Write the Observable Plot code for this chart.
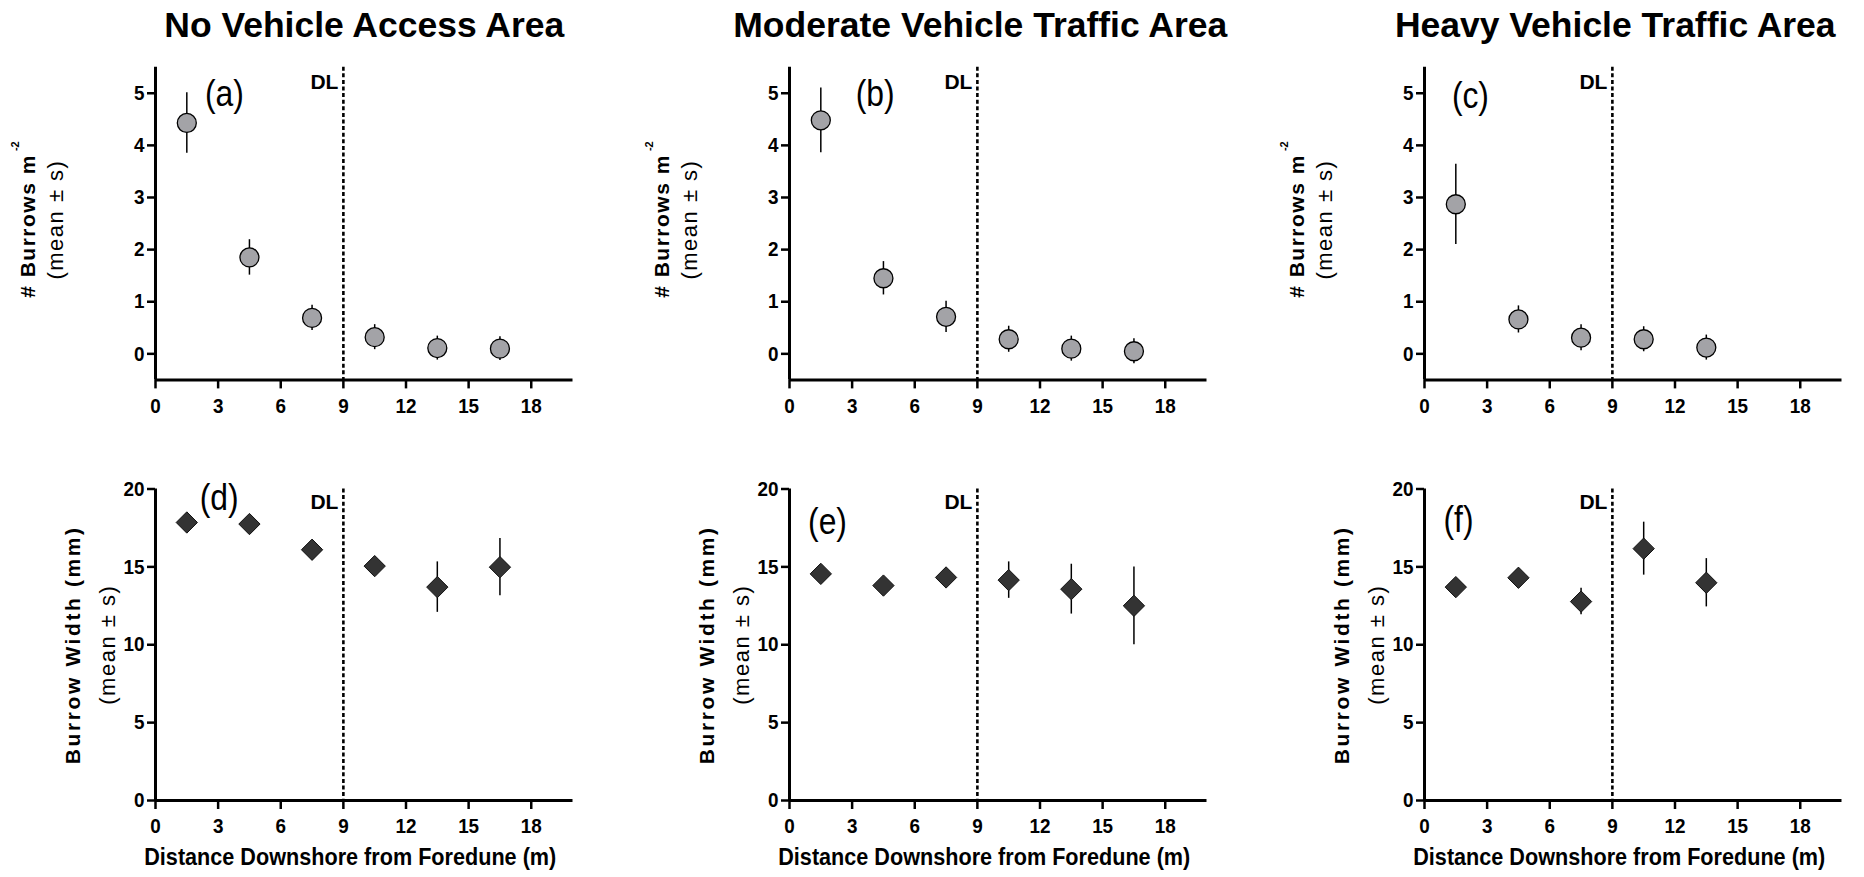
<!DOCTYPE html>
<html>
<head>
<meta charset="utf-8">
<script src="https://cdn.jsdelivr.net/npm/d3@7"></script>
<script src="https://cdn.jsdelivr.net/npm/@observablehq/plot@0.6"></script>
<style>
  html, body { margin: 0; padding: 0; background: #fff; overflow: hidden; }
  #root { position: relative; width: 1864px; height: 877px; }
  .panel { position: absolute; }
</style>
</head>
<body>
<div id="root"></div>
<script>
// ---------------- data ----------------
const areas = ["No Vehicle Access Area", "Moderate Vehicle Traffic Area", "Heavy Vehicle Traffic Area"];
const distances = [1.5, 4.5, 7.5, 10.5, 13.5, 16.5];

// # burrows per m^2 (mean, sd) — panels a, b, c
const burrowMean = [
  [4.43, 1.85, 0.69, 0.32, 0.11, 0.10],
  [4.48, 1.45, 0.71, 0.28, 0.10, 0.05],
  [2.87, 0.66, 0.31, 0.28, 0.12]
];
const burrowSD = [
  [0.58, 0.34, 0.24, 0.24, 0.23, 0.23],
  [0.62, 0.32, 0.30, 0.25, 0.24, 0.24],
  [0.77, 0.26, 0.25, 0.24, 0.24]
];

// burrow width mm (mean, sd) — panels d, e, f
const widthMean = [
  [17.85, 17.75, 16.10, 15.05, 13.70, 14.98],
  [14.55, 13.80, 14.32, 14.15, 13.57, 12.50],
  [13.70, 14.30, 12.77, 16.17, 13.98]
];
const widthSD = [
  [0.5, 0.5, 0.5, 0.6, 1.62, 1.84],
  [0.5, 0.5, 0.5, 1.17, 1.60, 2.50],
  [0.5, 0.5, 0.85, 1.70, 1.55]
];

const panelLetters = [["(a)", "(b)", "(c)"], ["(d)", "(e)", "(f)"]];
const xTicks = [0, 3, 6, 9, 12, 15, 18];
const burrowTicks = [0, 1, 2, 3, 4, 5];
const widthTicks = [0, 5, 10, 15, 20];
const dlDistance = [9];
const dlLabel = "DL";
const burrowTitle = ["# Burrows m", " -2"];
const widthTitle = ["Burrow Width (mm)"];
const statTitle = "(mean \u00B1 s)";
const xTitle = "Distance Downshore from Foredune (m)";

// ---------------- layout ----------------
const SANS = '"Liberation Sans",Arial,Helvetica,sans-serif';
const NARROW_FACTOR = 0.86;   // emulate a narrow face by condensing glyphs
const COL_STEP = 634.35, MARGIN_LEFT = 155, SVG_W = 593, MARGIN_RIGHT = 20.5;
// annotation placement (data units) for the panel letters
const letterPos = [[[3.3, 4.98], [4.1, 4.98], [2.2, 4.95]], [[3.05, 19.4], [1.82, 17.9], [1.63, 18.0]]];
const titleShift = [0, -18, -18];

const rows = [
  { top: 0, height: 420, marginTop: 66.7, marginBottom: 40.6, yDomain: [-0.5, 5.5], yTicks: burrowTicks,
    means: burrowMean, sds: burrowSD, kind: "circle", title1: burrowTitle, t1dx: -127, t2dx: -100, tdy: -4,
    t1ls: "1.5px", dlDy: 15 },
  { top: 420, height: 457, marginTop: 68.5, marginBottom: 77, yDomain: [0, 20], yTicks: widthTicks,
    means: widthMean, sds: widthSD, kind: "diamond", title1: widthTitle, t1dx: -82, t2dx: -48, tdy: 0,
    t1ls: "2.6px", dlDy: 13.5 }
];

const root = document.getElementById("root");

function condense(nodes, factor) {
  nodes.each(function () {
    const L = this.getComputedTextLength();
    if (L > 0) {
      this.setAttribute("textLength", (L * factor).toFixed(1));
      this.setAttribute("lengthAdjust", "spacingAndGlyphs");
    }
  });
}
function byText(sel, s) {
  return sel.selectAll("text").filter(function () { return this.textContent === s; });
}

rows.forEach((R, r) => {
  for (let c = 0; c < 3; c++) {
    const data = R.means[c].map((m, i) => ({ x: distances[i], m, s: R.sds[c][i] }));
    const marks = [
      Plot.ruleX(dlDistance, { x: d => d, stroke: "#000", strokeWidth: 2.6, strokeDasharray: "4,2.6" }),
      Plot.ruleX(data, { x: "x", y1: d => d.m - d.s, y2: d => d.m + d.s, stroke: "#000", strokeWidth: 1.5 }),
      R.kind === "circle"
        ? Plot.dot(data, { x: "x", y: "m", r: 9.5, fill: "#a3a3a7", stroke: "#000", strokeWidth: 1.3 })
        : Plot.dot(data, { x: "x", y: "m", symbol: "diamond2", r: 9.6, fill: "#333333", stroke: "#111", strokeWidth: 1 }),
      Plot.ruleY([R.yDomain[0]], { y: d => d, stroke: "#000", strokeWidth: 3 }),
      Plot.ruleX([0], { x: d => d, stroke: "#000", strokeWidth: 3 }),
      Plot.axisX({ ticks: xTicks, tickSize: 9, tickPadding: 9, fontSize: 21, fontWeight: "bold",
                   fontFamily: SANS, strokeWidth: 2.5, label: null, tickFormat: "d" }),
      Plot.axisY({ ticks: R.yTicks, tickSize: 8, tickPadding: 3, fontSize: 21, fontWeight: "bold",
                   fontFamily: SANS, strokeWidth: 2.5, label: null, tickFormat: "d" }),
      Plot.text(dlDistance, { x: d => d, text: () => dlLabel, frameAnchor: "top", textAnchor: "end",
                              lineAnchor: "middle", dx: -5, dy: R.dlDy, fontSize: 21, fontWeight: "bold",
                              fontFamily: SANS }),
      Plot.text([letterPos[r][c]], { x: d => d[0], y: d => d[1], text: () => panelLetters[r][c],
                              lineAnchor: "middle", fontSize: 37, fontWeight: "normal", fontFamily: SANS }),
      Plot.text([R.title1[0]], { text: d => d, frameAnchor: "left", textAnchor: "middle", lineAnchor: "middle",
                              rotate: -90, dx: R.t1dx, dy: R.tdy, fontSize: 21, fontWeight: "bold", fontFamily: SANS }),
      Plot.text([statTitle], { text: d => d, frameAnchor: "left", textAnchor: "middle", lineAnchor: "middle",
                              rotate: -90, dx: R.t2dx, dy: R.tdy, fontSize: 22, fontWeight: "normal", fontFamily: SANS })
    ];
    if (r === 0) {
      marks.push(Plot.text([areas[c]], { text: d => d, frameAnchor: "top", textAnchor: "middle", lineAnchor: "middle",
                              dx: titleShift[c], dy: -42, fontSize: 35.5, fontWeight: "bold", fontFamily: SANS }));
    } else {
      marks.push(Plot.text([xTitle], { text: d => d, frameAnchor: "bottom", textAnchor: "middle", lineAnchor: "middle",
                              dx: -14, dy: 57, fontSize: 23, fontWeight: "bold", fontFamily: SANS }));
    }
    const svg = Plot.plot({
      width: SVG_W, height: R.height,
      marginLeft: MARGIN_LEFT, marginRight: MARGIN_RIGHT, marginTop: R.marginTop, marginBottom: R.marginBottom,
      x: { domain: [0, 20], label: null },
      y: { domain: R.yDomain, label: null },
      style: { background: "transparent", overflow: "visible", maxWidth: "none", color: "#000" },
      marks
    });
    const div = document.createElement("div");
    div.className = "panel";
    div.style.left = (c * COL_STEP) + "px";
    div.style.top = R.top + "px";
    div.appendChild(svg);
    root.appendChild(div);

    // post-render text styling
    const sel = d3.select(svg);
    sel.selectAll("g[aria-label='x-axis tick label'] text, g[aria-label='y-axis tick label'] text")
      .style("font-weight", "bold").style("font-size", "21px").style("font-family", SANS);
    byText(sel, R.title1[0]).style("letter-spacing", R.t1ls);
    byText(sel, statTitle).style("letter-spacing", "1.5px");
    if (R.title1.length > 1) {
      byText(sel, R.title1[0]).append("tspan")
        .attr("dy", "-16").attr("font-size", "11px").style("letter-spacing", "0px").text(R.title1[1]);
    }
    condense(sel.selectAll("g[aria-label='x-axis tick label'] text"), 0.9);
    condense(sel.selectAll("g[aria-label='y-axis tick label'] text"), 0.9);
    condense(byText(sel, panelLetters[r][c]), NARROW_FACTOR);
    if (r === 1) condense(byText(sel, xTitle), 0.94);
  }
});
</script>
</body>
</html>
